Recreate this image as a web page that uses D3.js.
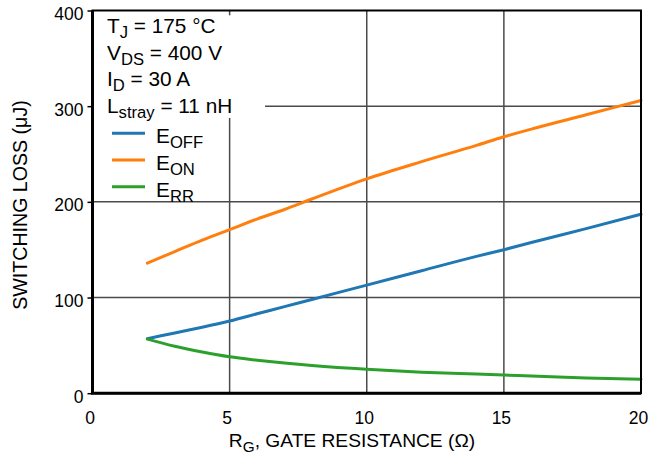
<!DOCTYPE html>
<html>
<head>
<meta charset="utf-8">
<script src="https://cdn.jsdelivr.net/npm/d3@7"></script>
<style>
  body { margin: 0; background: #fff; }
  svg { display: block; font-family: 'Liberation Sans', Arial, sans-serif; }
</style>
</head>
<body>
<div id="chart"></div>
<script>
// values (R_G in ohm, losses in uJ)
const rg = [2, 3, 4, 5, 6, 7, 8, 10, 12, 14, 15, 16, 18, 20]
const eOff = [57, 63, 69, 75.5, 83, 90.5, 98, 113, 128, 143, 150, 157.5, 172, 187]
const eOn = [136, 148, 160, 171, 182, 192, 203, 224, 242, 259, 268, 276, 291, 306]
const eRr = [56.5, 49, 43, 38, 34.5, 31.5, 29, 25, 22, 20, 19, 18, 16, 14.5]

const xTicks = [0, 5, 10, 15, 20]
const yTicks = [0, 100, 200, 300, 400]

const conditions = [['T', 'J', ' = 175 °C'], ['V', 'DS', ' = 400 V'], ['I', 'D', ' = 30 A'], ['L', 'stray', ' = 11 nH']]
const seriesNames = [['E', 'OFF'], ['E', 'ON'], ['E', 'RR']]
const seriesColors = ['#1f77b4', '#ff7f0e', '#2ca02c']

const W = 658, H = 460
const margin = { top: 10.5, right: 17, bottom: 66.8, left: 92.5 }

const x = d3.scaleLinear().domain([0, 20]).range([margin.left, W - margin.right])
const y = d3.scaleLinear().domain([0, 400]).range([H - margin.bottom, margin.top])

const svg = d3.select('#chart').append('svg')
  .attr('width', W)
  .attr('height', H)

// grid
svg.append('g')
  .selectAll('line')
  .data(xTicks.slice(1, -1))
  .enter().append('line')
  .attr('x1', d => x(d)).attr('x2', d => x(d))
  .attr('y1', y(0)).attr('y2', y(400))
  .attr('stroke', '#4a4a4a').attr('stroke-width', 1.5)

svg.append('g')
  .selectAll('line')
  .data(yTicks.slice(1, -1))
  .enter().append('line')
  .attr('x1', x(0)).attr('x2', x(20))
  .attr('y1', d => y(d)).attr('y2', d => y(d))
  .attr('stroke', '#4a4a4a').attr('stroke-width', 1.5)

// annotation block with white background
const note = svg.append('g')
const bg = note.append('rect').attr('fill', '#fff')

const addSub = (sel, parts, size) => {
  sel.append('tspan').text(parts[0])
  sel.append('tspan').attr('font-size', size * 0.8).attr('dy', 5).text(parts[1])
  if (parts[2]) sel.append('tspan').attr('dy', -5).text(parts[2])
}

conditions.forEach((c, i) => {
  const t = note.append('text')
    .attr('x', 107)
    .attr('y', 33.3 + i * 26.4)
    .attr('font-size', 20.8)
    .attr('fill', '#000')
  addSub(t, c, 20.8)
})

const bb = note.node().getBBox()
bg.attr('x', x(0) + 1.5)
  .attr('y', bb.y + 1)
  .attr('width', 265 - x(0) - 1.5)
  .attr('height', 118 - bb.y - 1)

// legend
seriesNames.forEach((s, i) => {
  const by = 143.3 + i * 26.7
  svg.append('line')
    .attr('x1', 112).attr('x2', 145)
    .attr('y1', by - 10).attr('y2', by - 10)
    .attr('stroke', seriesColors[i]).attr('stroke-width', 3)
  const t = svg.append('text')
    .attr('x', 156)
    .attr('y', by)
    .attr('font-size', 20.8)
    .attr('fill', '#000')
  addSub(t, s, 20.8)
})

// curves
const line = d3.line()
  .x((d, i) => x(rg[i]))
  .y(d => y(d))
  .curve(d3.curveMonotoneX)

;[eOff, eOn, eRr].forEach((vals, i) => {
  svg.append('path')
    .datum(vals)
    .attr('d', line)
    .attr('fill', 'none')
    .attr('stroke', seriesColors[i])
    .attr('stroke-width', 3)
    .attr('stroke-linecap', 'round')
})

// frame
svg.append('rect')
  .attr('x', x(0)).attr('y', y(400))
  .attr('width', x(20) - x(0)).attr('height', y(0) - y(400))
  .attr('fill', 'none').attr('stroke', '#000').attr('stroke-width', 2)

// axes
const yAxis = d3.axisLeft(y).tickValues(yTicks).tickSize(5).tickPadding(4)
const yG = svg.append('g').attr('transform', 'translate(' + x(0) + ',0)').call(yAxis)
yG.select('.domain').attr('stroke-width', 3).attr('d', 'M0,' + y(400) + 'V' + y(0))
yG.selectAll('.tick line').attr('stroke-width', 1.5)
yG.selectAll('text').attr('font-size', 17.5).attr('font-family', null).attr('dy', '0.52em').attr('fill', '#000')

const xAxis = d3.axisBottom(x).tickValues(xTicks).tickSize(0).tickPadding(18)
const xG = svg.append('g').attr('transform', 'translate(0,' + y(0) + ')').call(xAxis)
xG.select('.domain').attr('stroke-width', 3).attr('d', 'M' + (x(0) - 1.5) + ',0H' + x(20))
xG.selectAll('text').attr('font-size', 17.5).attr('font-family', null).attr('dx', -3).attr('fill', '#000')

// axis titles
const xt = svg.append('text')
  .attr('x', 352).attr('y', 447)
  .attr('text-anchor', 'middle')
  .attr('font-size', 19.2)
  .attr('fill', '#000')
addSub(xt, ['R', 'G', ', GATE RESISTANCE (Ω)'], 19.2)

svg.append('text')
  .attr('transform', 'translate(27,205) rotate(-90)')
  .attr('text-anchor', 'middle')
  .attr('font-size', 19.6)
  .attr('fill', '#000')
  .text('SWITCHING LOSS (μJ)')
</script>
</body>
</html>
